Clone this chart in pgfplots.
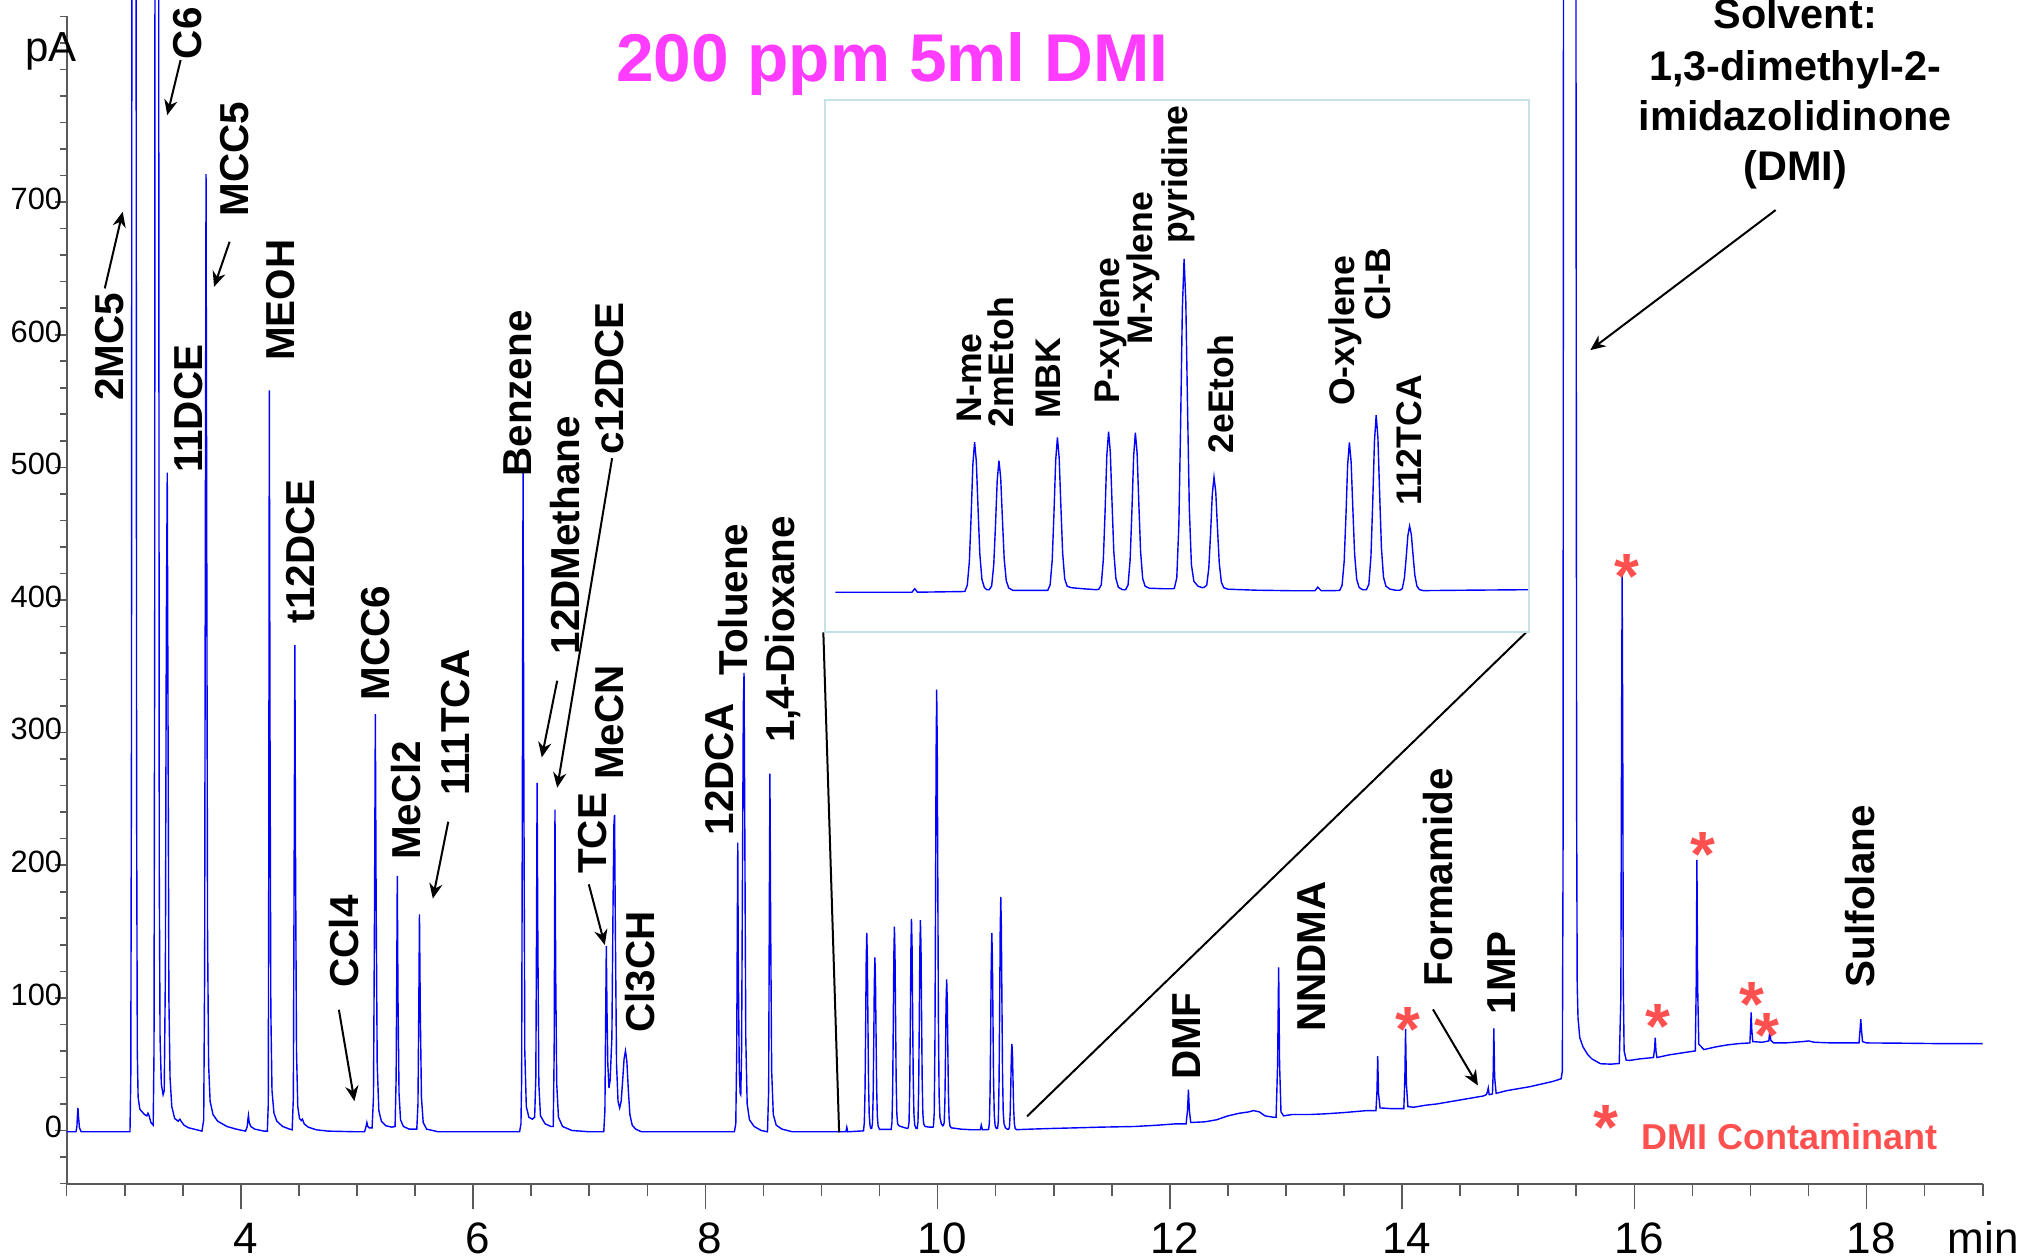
\documentclass[border=0pt]{standalone}
\usepackage{fontspec}
\setmainfont{Liberation Sans}
\usepackage{pgfplots}
\usepackage{pgfplotstable}
\pgfplotsset{compat=1.18}
\usetikzlibrary{arrows.meta}
\definecolor{trace}{RGB}{0,0,255}
\definecolor{titlemag}{RGB}{255,60,255}
\definecolor{contam}{RGB}{255,80,80}
\definecolor{insetc}{RGB}{195,225,230}
\definecolor{axisgray}{RGB}{90,90,90}

\pgfplotstableread{
t v
2.500 -1
2.580 -1
2.588 3
2.593 12
2.597 17
2.602 10
2.610 2
2.625 -1
3.045 -1
3.052 40
3.058 300
3.063 1200
3.068 3000
3.092 3000
3.097 1000
3.102 250
3.108 60
3.115 25
3.130 16
3.150 14
3.170 12
3.190 11
3.200 13
3.210 11
3.225 6
3.245 4
3.252 60
3.258 400
3.263 1500
3.268 3000
3.287 3000
3.292 900
3.297 200
3.304 70
3.315 35
3.330 27
3.340 30
3.350 120
3.358 380
3.366 496
3.373 300
3.380 100
3.390 40
3.405 18
3.430 9
3.460 7
3.475 8.5
3.485 7
3.510 4
3.550 2
3.620 0.5
3.665 -0.5
3.680 8
3.688 120
3.694 450
3.700 721
3.706 450
3.713 150
3.722 50
3.735 22
3.760 12
3.800 7
3.880 3
3.960 1
4.040 -0.5
4.055 3
4.060 8
4.065 11.3
4.072 6
4.085 3
4.120 1
4.200 -0.5
4.228 -0.5
4.236 20
4.240 200
4.245 558
4.251 300
4.258 90
4.268 30
4.285 13
4.310 7
4.360 3
4.420 1
4.442 0.5
4.452 25
4.458 180
4.465 366
4.471 200
4.479 60
4.490 18
4.505 9
4.520 7.5
4.530 8.5
4.545 5
4.580 2.5
4.650 0.5
4.750 -0.5
5.000 -1
5.065 -1
5.078 3
5.085 6
5.093 3
5.105 2
5.130 2
5.142 25
5.150 150
5.158 314
5.165 170
5.174 50
5.188 15
5.210 7
5.250 3.5
5.300 2.5
5.328 3
5.337 40
5.342 110
5.347 192
5.353 100
5.362 28
5.375 8
5.400 3
5.450 1
5.515 1
5.525 20
5.532 90
5.538 163
5.545 90
5.555 25
5.570 6
5.600 1
5.700 -1
6.400 -1
6.412 5
6.418 40
6.424 250
6.430 497
6.437 260
6.445 60
6.458 18
6.480 10
6.510 8.5
6.530 10
6.540 40
6.546 150
6.551 262
6.557 150
6.566 35
6.580 11
6.620 5
6.670 3
6.690 3
6.698 60
6.705 242
6.711 120
6.720 35
6.735 10
6.770 3
6.850 0
7.000 -1
7.125 -1
7.135 15
7.141 80
7.147 139
7.153 90
7.160 50
7.170 32
7.180 38
7.195 70
7.205 170
7.212 230
7.218 238
7.225 150
7.235 50
7.248 22
7.262 17
7.275 22
7.288 38
7.300 54
7.312 60
7.324 52
7.337 30
7.350 12
7.370 4
7.400 1
7.450 -1
8.250 -1
8.262 5
8.270 60
8.275 150
8.279 217
8.284 120
8.292 45
8.300 28
8.305 27
8.312 60
8.320 200
8.327 320
8.333 345
8.340 220
8.348 70
8.360 20
8.380 8
8.420 3
8.480 0
8.535 -1
8.545 30
8.551 170
8.556 269
8.562 160
8.571 45
8.585 12
8.610 4
8.660 1
8.750 -1
8.990 -1
9.210 -1
9.218 2.5
9.226 -1
9.362 -0.3
9.369 6
9.375 29.8
9.380 74.5
9.385 126.7
9.390 149
9.395 129.6
9.400 82
9.405 37.3
9.411 11.9
9.418 3.7
9.425 1.5
9.432 1.5
9.439 5.2
9.445 26.1
9.450 65.3
9.455 110.9
9.460 130.5
9.465 113.5
9.470 71.8
9.475 32.6
9.481 10.4
9.488 3.3
9.500 0.8
9.600 0.8
9.607 6.1
9.613 30.7
9.618 76.9
9.623 130.6
9.628 153.7
9.633 133.7
9.638 84.5
9.643 38.4
9.649 12.3
9.656 5
9.668 3.5
9.700 2.5
9.740 1.5
9.747 2
9.754 6.4
9.760 31.9
9.765 79.8
9.770 135.7
9.775 159.6
9.780 138.9
9.785 87.8
9.790 39.9
9.796 12.8
9.803 4
9.815 1.5
9.824 1.5
9.831 6.3
9.837 31.7
9.842 79.3
9.847 134.8
9.852 158.6
9.857 138
9.862 87.2
9.867 39.7
9.873 12.7
9.880 5
9.892 3
9.930 2.5
9.960 2.5
9.964 3
9.971 13.3
9.977 66.5
9.982 166.2
9.987 282.5
9.992 332.3
9.997 289.1
10.002 182.8
10.007 83.1
10.013 26.6
10.020 10
10.032 5
10.045 3.5
10.050 4
10.057 6
10.063 22.8
10.068 57
10.073 96.9
10.078 114
10.083 99.2
10.088 62.7
10.093 28.5
10.099 9.1
10.106 3.5
10.118 2
10.200 1
10.300 0.5
10.368 0.5
10.376 4
10.386 0.5
10.439 0.7
10.446 5.9
10.452 29.7
10.457 74.4
10.462 126.4
10.467 148.7
10.472 129.4
10.477 81.8
10.482 37.2
10.488 11.9
10.495 3.7
10.505 1.5
10.516 1.5
10.523 7
10.529 35.2
10.534 88.1
10.539 149.7
10.544 176.1
10.549 153.2
10.554 96.9
10.559 44
10.565 14.1
10.572 5
10.584 2
10.600 1
10.612 1
10.619 2.6
10.625 13
10.630 32.6
10.635 55.4
10.640 65.2
10.645 56.7
10.650 35.9
10.655 16.3
10.661 5.2
10.668 1.6
10.680 0.6
10.800 1
10.980 1.5
11.200 2
11.400 2.5
11.700 3
11.900 4
12.050 5
12.140 5
12.152 15
12.160 30.7
12.168 15
12.180 6
12.300 6.5
12.400 8
12.500 11
12.600 13
12.680 14
12.720 15
12.770 14
12.820 11
12.890 10
12.915 10
12.928 50
12.937 123
12.945 50
12.957 14
12.980 11
13.050 12
13.200 12
13.350 12.6
13.500 13.5
13.700 15
13.775 15
13.784 30
13.790 56
13.797 28
13.810 17
13.900 16.5
14.015 16.5
14.024 40
14.030 76.5
14.037 35
14.050 18
14.100 17.5
14.200 19
14.300 20
14.400 21.5
14.500 23
14.600 24.5
14.700 26
14.725 27
14.735 29
14.742 32
14.750 27
14.778 27.5
14.785 45
14.790 77
14.797 40
14.810 28
14.900 30
15.000 31.5
15.100 33
15.200 35
15.300 37
15.370 39
15.380 45
15.386 200
15.390 900
15.394 3000
15.490 3000
15.497 900
15.503 250
15.508 110
15.515 85
15.530 70
15.558 63
15.600 57
15.634 54
15.709 50.3
15.800 50
15.870 50.5
15.884 100
15.890 300
15.895 418
15.900 300
15.905 110
15.912 60
15.930 53
15.960 52.8
16.050 54
16.165 55
16.175 62
16.180 70
16.186 60
16.195 55
16.300 57
16.450 59
16.525 60
16.533 110
16.539 204
16.545 110
16.555 65
16.600 61
16.700 63
16.800 64.5
16.900 65.5
16.995 66
17.000 75
17.006 89
17.012 75
17.020 67
17.100 66.5
17.158 67.5
17.167 75
17.175 68
17.200 66
17.300 66
17.450 67
17.500 67.5
17.550 66.5
17.700 66
17.935 66
17.943 75
17.950 84
17.957 75
17.965 67
18.000 66
18.300 65.8
18.600 65.5
19.000 65.5
}\chrom

\tikzset{
  lab/.style={rotate=90, font=\fontsize{10.1}{12}\selectfont\bfseries, inner sep=0pt, anchor=center},
  ilab/.style={rotate=90, font=\fontsize{8.9}{10}\selectfont\bfseries, inner sep=0pt, anchor=center},
  arr/.style={-{Stealth[length=3.8pt,width=3.3pt]}, line width=0.5pt, black},
  star/.style={font=\fontsize{16}{16}\selectfont\bfseries, text=contam, anchor=base, inner sep=0pt, yshift=-9.2pt},
}

\begin{document}
\begin{tikzpicture}
\begin{axis}[
  at={(0,0)}, anchor=south west,
  width=479pt, height=291.775pt, scale only axis,
  xmin=2.5, xmax=19, ymin=-40, ymax=840,
  clip=false,
  axis x line*=bottom, axis y line*=left,
  axis line style={draw=axisgray, line width=0.5pt, -},
  tick align=outside,
  xtick={4,6,...,18},
  minor xtick={2.5,3,...,19},
  ytick={0,100,...,700},
  minor ytick={-40,-20,...,840},
  xtick style={draw=axisgray, line width=0.4pt, /pgfplots/major tick length=6.25pt, /pgfplots/minor tick length=3.1pt},
  ytick style={draw=axisgray, line width=0.4pt, /pgfplots/major tick length=3pt, /pgfplots/minor tick length=1.7pt},
  xticklabel style={font=\fontsize{11}{13}\selectfont, anchor=base, inner sep=0pt, yshift=-13.2pt, xshift=1.2pt},
  yticklabel style={font=\fontsize{7.7}{9}\selectfont, anchor=east, inner sep=0pt, xshift=3.3pt, yshift=0.8pt},
  /pgf/number format/assume math mode=true,
]
\addplot[trace, line width=0.35pt, mark=none] table[x=t, y=v] {\chrom};

% zoom lines
\draw[black, line width=0.5pt] (axis cs:9.016,375.6) -- (axis cs:9.152,-1.5);
\draw[black, line width=0.5pt] (axis cs:15.069,375.6) -- (axis cs:10.77,10.6);

% axis unit labels
\node[font=\fontsize{10.5}{12}\selectfont, anchor=base west, inner sep=0pt] at (axis cs:2.138,805.8) {pA};
\node[font=\fontsize{11}{13}\selectfont, anchor=base west, inner sep=0pt] at (axis cs:18.693,-93) {min};

% title
\node[font=\fontsize{16.9}{19}\selectfont\bfseries, text=titlemag, anchor=base, inner sep=0pt] at (axis cs:9.609,791.3) {200 ppm 5ml DMI};

% peak labels
\node[lab] at (axis cs:2.871,590.9) {2MC5};
\node[lab] at (axis cs:3.539,827.3) {C6};
\node[lab] at (axis cs:3.548,544.2) {11DCE};
\node[lab] at (axis cs:3.942,732.6) {MCC5};
\node[lab] at (axis cs:4.345,626.1) {MEOH};
\node[lab] at (axis cs:4.513,436.7) {t12DCE};
\node[lab] at (axis cs:4.889,142.5) {CCl4};
\node[lab] at (axis cs:5.159,367.7) {MCC6};
\node[lab] at (axis cs:5.426,248.9) {MeCl2};
\node[lab] at (axis cs:5.851,307.5) {111TCA};
\node[lab] at (axis cs:6.387,555.7) {Benzene};
\node[lab] at (axis cs:6.790,448.8) {12DMethane};
\node[lab] at (axis cs:7.176,567) {c12DCE};
\node[lab] at (axis cs:7.172,307.5) {MeCN};
\node[lab] at (axis cs:7.028,224) {TCE};
\node[lab] at (axis cs:7.438,119.6) {Cl3CH};
\node[lab] at (axis cs:8.122,272.5) {12DCA};
\node[lab] at (axis cs:8.240,400.3) {Toluene};
\node[lab] at (axis cs:8.670,377.7) {1,4-Dioxane};
\node[lab] at (axis cs:12.146,71.1) {DMF};
\node[lab] at (axis cs:13.221,131) {NNDMA};
\node[lab] at (axis cs:14.306,191) {Formamide};
\node[lab] at (axis cs:14.854,118.8) {1MP};
\node[lab] at (axis cs:17.947,176.7) {Sulfolane};

% arrows
\draw[arr] (axis cs:2.828,634.9) -- (axis cs:2.982,692.7);
\draw[arr] (axis cs:3.481,807.1) -- (axis cs:3.366,765.6);
\draw[arr] (axis cs:3.903,670.1) -- (axis cs:3.769,636.1);
\draw[arr] (axis cs:4.844,91) -- (axis cs:4.978,22.1);
\draw[arr] (axis cs:5.786,232.8) -- (axis cs:5.653,174.8);
\draw[arr] (axis cs:6.724,339.1) -- (axis cs:6.591,281.3);
\draw[arr] (axis cs:7.197,506.9) -- (axis cs:6.724,258.4);
\draw[arr] (axis cs:6.996,185.6) -- (axis cs:7.134,139.9);
\draw[arr] (axis cs:14.266,91.3) -- (axis cs:14.653,33.9);
\draw[arr] (axis cs:17.217,694) -- (axis cs:15.621,588.4);

% solvent text
\node[font=\fontsize{10.35}{12}\selectfont\bfseries, anchor=base, inner sep=0pt] at (axis cs:17.385,831.1) {Solvent:};
\node[font=\fontsize{10.35}{12}\selectfont\bfseries, anchor=base, inner sep=0pt] at (axis cs:17.385,792) {1,3-dimethyl-2-};
\node[font=\fontsize{10.35}{12}\selectfont\bfseries, anchor=base, inner sep=0pt] at (axis cs:17.385,754.3) {imidazolidinone};
\node[font=\fontsize{10.35}{12}\selectfont\bfseries, anchor=base, inner sep=0pt] at (axis cs:17.385,716.6) {(DMI)};

% contaminant markers
\node[star] at (axis cs:14.05,87.5) {*};
\node[star] at (axis cs:15.94,429) {*};
\node[star] at (axis cs:16.207,89.2) {*};
\node[star] at (axis cs:16.595,219.5) {*};
\node[star] at (axis cs:17.017,106.4) {*};
\node[star] at (axis cs:17.142,82.7) {*};
\node[star] at (axis cs:15.753,13.6) {*};
\node[font=\fontsize{9}{11}\selectfont\bfseries, text=contam, anchor=base, inner sep=0pt] at (axis cs:17.333,-14.6) {DMI Contaminant};
\end{axis}

\begin{axis}[
  at={(189.45pt,137.875pt)}, anchor=south west,
  width=176pt, height=133pt, scale only axis,
  xmin=8.9587, xmax=10.9817, ymin=-40.8, ymax=491.2,
  axis line style={draw=insetc, line width=0.5pt},
  xtick=\empty, ytick=\empty,
  axis background/.style={fill=white},
]
\addplot[trace, line width=0.35pt, mark=none, restrict x to domain=8.99:10.98] table[x=t, y=v] {\chrom};
\node[ilab] at (axis cs:9.3765,213.2) {N-me};
\node[ilab] at (axis cs:9.4659,228.9) {2mEtoh};
\node[ilab] at (axis cs:9.6018,212.9) {MBK};
\node[ilab] at (axis cs:9.780,260.5) {P-xylene};
\node[ilab] at (axis cs:9.8748,323.3) {M-xylene};
\node[ilab] at (axis cs:9.9745,416.6) {pyridine};
\node[ilab] at (axis cs:10.098,197.2) {2eEtoh};
\node[ilab] at (axis cs:10.4558,260.5) {O-xylene};
\node[ilab] at (axis cs:10.5486,307) {Cl-B};
\node[ilab] at (axis cs:10.638,150.8) {112TCA};
\end{axis}

\pgfresetboundingbox
\useasboundingbox (-16.675pt,-18.625pt) rectangle (487.575pt,295.875pt);
\end{tikzpicture}
\end{document}
